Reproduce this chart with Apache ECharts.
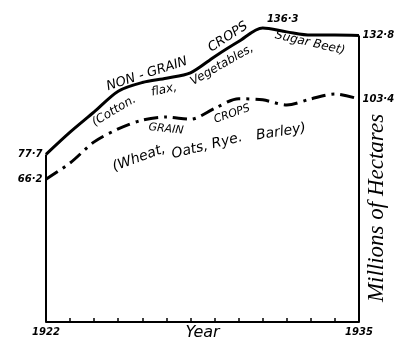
<!DOCTYPE html>
<html>
<head>
<meta charset="utf-8">
<script src="https://cdn.jsdelivr.net/npm/echarts@6/dist/echarts.min.js"></script>
<style>
  html, body { margin: 0; padding: 0; background: #fff; }
  #chart { width: 402px; height: 340px; }
</style>
</head>
<body>
<div id="chart"></div>
<script>
// years on the x axis
const years = [1922, 1923, 1924, 1925, 1926, 1927, 1928, 1929, 1930, 1931, 1932, 1933, 1934, 1935]
// millions of hectares
const nonGrain = [77.7, 88, 97.4, 107, 111, 113, 115.5, 123, 130, 136.3, 134.5, 133, 133, 132.8]
const grain = [66.2, 73.7, 83.5, 89.5, 93.6, 95, 94, 99, 103.5, 103, 100.6, 103.4, 105.7, 103.4]
const edgeYears = [1922, 1935]

const chart = echarts.init(document.getElementById('chart'))

// only some points carry their value as a label
function withLabels (values, where) {
  return values.map((v, i) => {
    const pos = where[i]
    if (!pos) return [years[i], v]
    return {
      value: [years[i], v],
      label: {
        show: true,
        position: pos.position,
        offset: pos.offset || [0, 0],
        distance: 3,
        formatter: v.toFixed(1).replace('.', '·'),
        color: '#000',
        fontStyle: 'italic',
        fontWeight: 'bold',
        fontSize: 10,
        fontFamily: 'DejaVu Sans'
      }
    }
  })
}

// hand lettering that follows the curves, split in pieces
function word (text, x, y, deg, size) {
  return {
    type: 'text', x: x, y: y, rotation: deg * Math.PI / 180,
    style: {
      text: text,
      font: 'italic ' + size + 'px "DejaVu Sans"',
      fill: '#000',
      align: 'center',
      verticalAlign: 'middle'
    }
  }
}

chart.setOption({
  animation: false,
  backgroundColor: '#fff',
  grid: { left: 46, right: 43, top: 20, bottom: 18, outerBoundsMode: 'none', containLabel: false },
  xAxis: {
    type: 'value',
    min: 1922,
    max: 1935,
    interval: 1,
    name: 'Year',
    nameLocation: 'middle',
    nameGap: 3,
    nameMoveOverlap: false,
    nameTextStyle: { fontStyle: 'italic', fontSize: 16, fontFamily: 'DejaVu Sans', color: '#000' },
    axisLine: { lineStyle: { color: '#000', width: 2 } },
    axisTick: { inside: true, length: 4, lineStyle: { color: '#000', width: 1.5 } },
    splitLine: { show: false },
    axisLabel: {
      margin: 5,
      color: '#000',
      fontStyle: 'italic',
      fontWeight: 'bold',
      fontSize: 10,
      fontFamily: 'DejaVu Sans',
      formatter: v => edgeYears.includes(v) ? String(v) : ''
    }
  },
  yAxis: {
    type: 'value',
    min: 0,
    max: 140,
    show: false
  },
  series: [
    {
      name: 'Non-grain crops',
      type: 'line',
      smooth: 0.3,
      symbol: 'circle',
      symbolSize: 1,
      itemStyle: { color: 'rgba(0,0,0,0)' },
      lineStyle: { color: '#000', width: 3 },
      data: withLabels(nonGrain, {
        0: { position: 'left' },
        9: { position: 'top', offset: [20, 0] },
        13: { position: 'right' }
      }),
      markLine: {
        silent: true,
        symbol: 'none',
        label: { show: false },
        lineStyle: { color: '#000', width: 2, type: 'solid' },
        data: [
          [{ coord: [1922, 0] }, { coord: [1922, nonGrain[0]] }],
          [{ coord: [1935, 0] }, { coord: [1935, nonGrain[nonGrain.length - 1]] }]
        ]
      }
    },
    {
      name: 'Grain crops',
      type: 'line',
      smooth: 0.3,
      symbol: 'circle',
      symbolSize: 1,
      itemStyle: { color: 'rgba(0,0,0,0)' },
      lineStyle: { color: '#000', width: 3, type: [14, 6, 3, 6] },
      data: withLabels(grain, {
        0: { position: 'left' },
        13: { position: 'right' }
      })
    }
  ],
  graphic: [
    word('NON - GRAIN', 147, 74, 18, 13),
    word('CROPS', 228, 37, 33, 13),
    word('(Cotton.', 114, 111, 31, 12),
    word('flax,', 164, 90, 12, 12),
    word('Vegetables,', 222, 65, 30, 12),
    word('Sugar Beet)', 310, 43, -13, 12),
    word('GRAIN', 166, 129, -6, 11),
    word('CROPS', 232, 114, 19, 11),
    word('(Wheat,', 139, 158, 20, 14),
    word('Oats, Rye.', 207, 146, 14, 14),
    word('Barley)', 281, 132, 9, 14),
    {
      type: 'text', x: 377, y: 208, rotation: Math.PI / 2,
      style: { text: 'Millions of Hectares', font: 'italic 23px "Liberation Serif"', fill: '#000', align: 'center', verticalAlign: 'middle' }
    }
  ]
})
</script>
</body>
</html>
